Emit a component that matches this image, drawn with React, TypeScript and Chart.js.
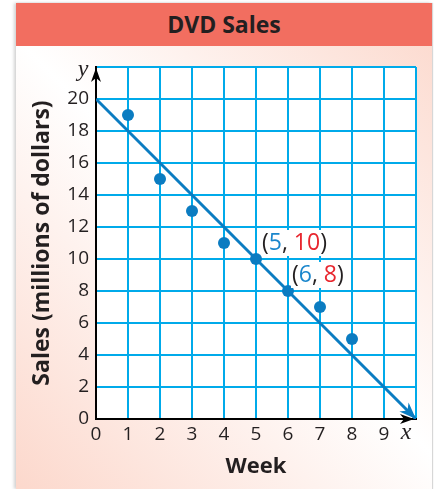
import React, { useEffect, useRef } from "react";
import { Chart, registerables } from "chart.js";

Chart.register(...registerables);

const title = "DVD Sales";
const xAxisTitle = "Week";
const yAxisTitle = "Sales (millions of dollars)";
const weeks = [1, 2, 3, 4, 5, 6, 7, 8];
const sales = [19, 15, 13, 11, 10, 8, 7, 5];
const fitX = [0, 10];
const fitY = [20, 0];
const labelledX = [5, 6];
const labelledY = [10, 8];
const xMin = 0, xMax = 10, xStep = 1;
const yMin = 0, yMax = 22, yStep = 2;

const FONT = "'Open Sans', 'Noto Sans', sans-serif";
const SERIF = "'Liberation Serif', 'DejaVu Serif', serif";
const GRID = "#00AAEA";
const MARK = "#0B7CC1";
const TEXT = "#231F20";
const RED = "#E8262E";
const BLUE = "#1A86CC";

function arrowHead(ctx: CanvasRenderingContext2D, tx: number, ty: number, dx: number, dy: number, len: number, half: number, notch: number, color: string) {
  const n = Math.hypot(dx, dy);
  const ux = dx / n, uy = dy / n;
  const px = -uy, py = ux;
  const bx = tx - ux * len, by = ty - uy * len;
  ctx.save();
  ctx.fillStyle = color;
  ctx.beginPath();
  ctx.moveTo(tx, ty);
  ctx.lineTo(bx + px * half, by + py * half);
  ctx.lineTo(tx - ux * (len - notch), ty - uy * (len - notch));
  ctx.lineTo(bx - px * half, by - py * half);
  ctx.closePath();
  ctx.fill();
  ctx.restore();
}

const decorPlugin = {
  id: "decor",
  beforeDraw(chart: any) {
    const { ctx, chartArea } = chart;
    ctx.save();
    ctx.fillStyle = "#FFFFFF";
    ctx.fillRect(chartArea.left, chartArea.top, chartArea.right - chartArea.left, chartArea.bottom - chartArea.top);
    ctx.restore();
  },
  beforeDatasetsDraw(chart: any) {
    const { ctx, chartArea } = chart;
    const x0 = chart.scales.x.getPixelForValue(xMin);
    const y0 = chart.scales.y.getPixelForValue(yMin);
    arrowHead(ctx, x0, chartArea.top + 1, 0, -1, 14, 5, 4, "#000");
    arrowHead(ctx, chartArea.right - 2, y0, 1, 0, 14, 5, 4, "#000");
  },
  afterDatasetsDraw(chart: any) {
    const { ctx } = chart;
    const xs = chart.scales.x, ys = chart.scales.y;
    const ax = xs.getPixelForValue(fitX[0]), ay = ys.getPixelForValue(fitY[0]);
    const bx = xs.getPixelForValue(fitX[1]), by = ys.getPixelForValue(fitY[1]);
    arrowHead(ctx, bx, by, bx - ax, by - ay, 17, 6.5, 5, MARK);
  },
  afterDraw(chart: any) {
    const { ctx, chartArea } = chart;
    const xs = chart.scales.x, ys = chart.scales.y;
    ctx.save();
    ctx.fillStyle = TEXT;
    ctx.font = `italic 24px ${SERIF}`;
    ctx.textAlign = "center";
    ctx.textBaseline = "middle";
    ctx.fillText("x", chartArea.right - 10, chartArea.bottom + 14);
    ctx.fillText("y", chartArea.left - 13, chartArea.top + 3);
    ctx.font = `23px ${FONT}`;
    ctx.textAlign = "left";
    ctx.textBaseline = "middle";
    for (let i = 0; i < labelledX.length; i++) {
      const px = xs.getPixelForValue(labelledX[i]) + (i === 0 ? 6 : 4);
      const py = ys.getPixelForValue(labelledY[i]) - 16;
      const parts: [string, string][] = [
        ["(", TEXT],
        [String(labelledX[i]), BLUE],
        [", ", TEXT],
        [String(labelledY[i]), RED],
        [")", TEXT],
      ];
      let w = 0;
      for (const [t] of parts) w += ctx.measureText(t).width;
      ctx.fillStyle = "#FFFFFF";
      ctx.fillRect(px - 1, py - 13, w + 2, 26);
      let cx = px;
      for (const [t, c] of parts) {
        ctx.fillStyle = c;
        ctx.fillText(t, cx, py);
        cx += ctx.measureText(t).width;
      }
    }
    ctx.restore();
  },
};

export default function App() {
  const ref = useRef<HTMLCanvasElement | null>(null);

  useEffect(() => {
    if (!ref.current) return;
    const chart = new Chart(ref.current, {
      type: "scatter",
      data: {
        datasets: [
          {
            type: "line",
            data: fitX.map((x, i) => ({ x, y: fitY[i] })),
            borderColor: MARK,
            borderWidth: 3,
            pointRadius: 0,
            fill: false,
            order: 2,
          },
          {
            type: "scatter",
            data: weeks.map((x, i) => ({ x, y: sales[i] })),
            backgroundColor: MARK,
            borderColor: MARK,
            pointRadius: 6,
            borderWidth: 0,
            order: 1,
          },
        ],
      },
      plugins: [decorPlugin],
      options: {
        animation: false,
        responsive: false,
        devicePixelRatio: 1,
        layout: { padding: { left: 0, top: 67, right: 19, bottom: 0 } },
        plugins: { legend: { display: false }, tooltip: { enabled: false }, title: { display: false } },
        scales: {
          x: {
            type: "linear",
            min: xMin,
            max: xMax,
            afterFit: (s: any) => { s.height = 70; },
            ticks: {
              stepSize: xStep,
              color: TEXT,
              font: { family: FONT, size: 19 },
              padding: 4,
              maxRotation: 0,
              callback: (v: any) => (v === xMax ? "" : String(v)),
            },
            grid: {
              drawTicks: false,
              lineWidth: 2,
              color: (c: any) => (c.tick && c.tick.value === xMin ? "rgba(0,0,0,0)" : GRID),
            },
            border: { display: true, color: "#000", width: 2 },
            title: {
              display: true,
              text: xAxisTitle,
              color: TEXT,
              font: { family: FONT, size: 22, weight: "bold" },
              padding: { top: 0, bottom: 9 },
            },
          },
          y: {
            type: "linear",
            min: yMin,
            max: yMax,
            afterFit: (s: any) => { s.width = 96; },
            ticks: {
              stepSize: yStep,
              color: TEXT,
              font: { family: FONT, size: 19 },
              padding: 7,
              callback: (v: any) => (v === yMax ? "" : String(v)),
            },
            grid: {
              drawTicks: false,
              lineWidth: 2,
              color: (c: any) => (c.tick && c.tick.value === yMin ? "rgba(0,0,0,0)" : GRID),
            },
            border: { display: true, color: "#000", width: 2 },
            title: {
              display: true,
              text: yAxisTitle,
              color: TEXT,
              font: { family: FONT, size: 23, weight: "bold" },
              padding: { top: 29, bottom: 0 },
            },
          },
        },
      },
    } as any);
    return () => chart.destroy();
  }, []);

  return (
    <div style={{ position: "absolute", left: 0, top: 0, width: 435, height: 489, background: "#fff", overflow: "hidden" }}>
      <div
        style={{
          position: "absolute",
          left: 16,
          top: 3,
          width: 416,
          height: 486,
          background: "linear-gradient(45deg, #FCD8CC 0%, #FFFFFF 50%, #FCD8CC 100%)",
          boxShadow: "-2px 0 3px rgba(0,0,0,0.18), 1px 0 1px rgba(0,0,0,0.15)",
        }}
      />
      <div
        style={{
          position: "absolute",
          left: 16,
          top: 3,
          width: 416,
          height: 43,
          background: "#F26E60",
          color: TEXT,
          fontFamily: FONT,
          fontWeight: 700,
          fontSize: 23,
          lineHeight: "43px",
          textAlign: "center",
        }}
      >
        {title}
      </div>
      <canvas ref={ref} width={435} height={489} style={{ position: "absolute", left: 0, top: 0, width: 435, height: 489 }} />
    </div>
  );
}
